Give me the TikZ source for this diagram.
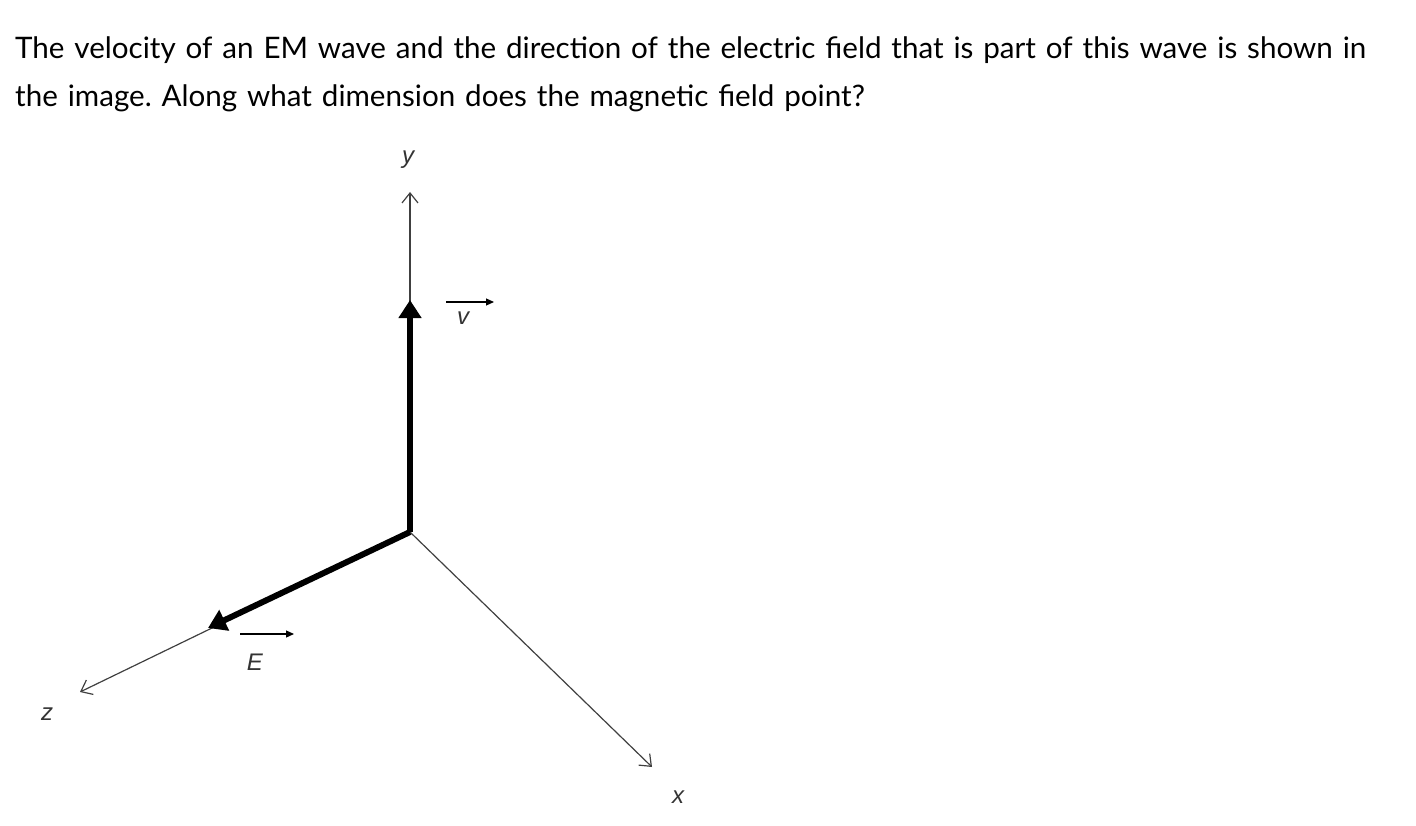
\documentclass[tikz,border=0pt]{standalone}
\usepackage{fontspec}
\setmainfont{Lato}
\newfontfamily\lblfont{Liberation Sans}
\usetikzlibrary{arrows.meta}
\begin{document}
\frenchspacing
\begin{tikzpicture}[x=1pt,y=-1pt,
  thin axis/.style={line width=1.2pt, draw=black!75, -{Straight Barb[length=10pt,width=16pt]}},
  thick vec/.style={line width=6pt, -{Triangle[length=18pt,width=22pt]}},
  lbl/.style={font=\lblfont\itshape\fontsize{24}{24}\selectfont, text=black!80}]
\useasboundingbox (0,0) rectangle (1416,826);
\node[anchor=west, font=\fontsize{29.6}{48}\selectfont, align=left, text width=1410pt, inner sep=0pt] (q) at (15,74)
 {The velocity of an EM wave and the direction of the electric field that is part of this wave is shown in\\the image. Along what dimension does the magnetic field point?};
\coordinate (O) at (410,532);
\coordinate (ytip) at (410,192);
\coordinate (ztip) at (80,692);
\coordinate (xtip) at (652,767);
\coordinate (vtip) at (410,300);
\coordinate (etip) at (208,628);
\draw[thin axis] (O) -- (ytip);
\draw[thin axis] (O) -- (ztip);
\draw[thin axis] (O) -- (xtip);
\draw[thick vec] (O) -- (vtip);
\draw[thick vec] (O) -- (etip);
\node[lbl] (yl) at (408,160) {y};
\node[lbl] (zl) at (47,714) {z};
\node[lbl] (xl) at (678,797) {x};
\node[lbl] (vl) at (463,318) {v};
\node[lbl] (el) at (255,662) {E};
\draw[line width=1.2pt, -{Triangle[length=8pt,width=7pt]}] (446,302) -- (494,302);
\draw[line width=1.2pt, -{Triangle[length=8pt,width=7pt]}] (240,634) -- (294,634);
\end{tikzpicture}
\end{document}
